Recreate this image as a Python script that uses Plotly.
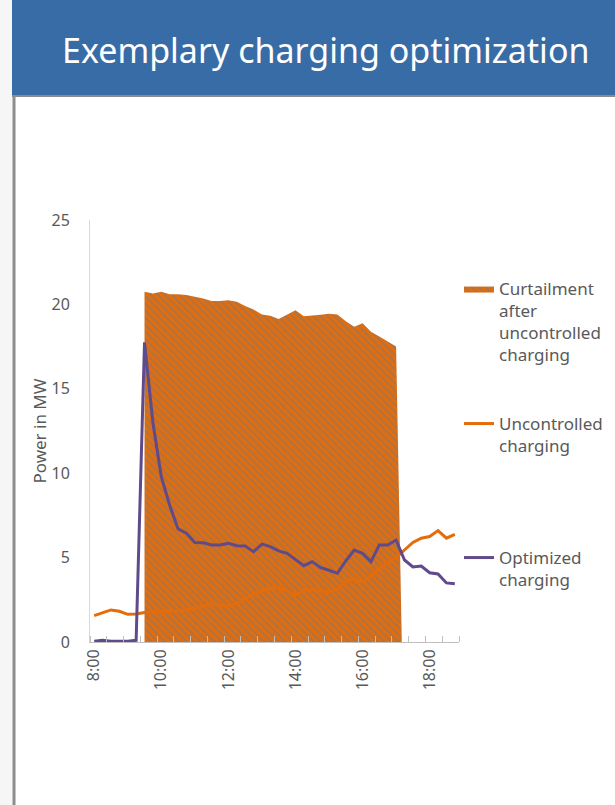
import plotly.graph_objects as go

# ---- data ----
times = [8 + 0.25 * i for i in range(44)]  # 8:00 .. 18:45, 15-min steps
uncontrolled = [1.56, 1.75, 1.90, 1.82, 1.64, 1.66, 1.75, 1.78, 1.80, 1.85, 1.85, 1.90,
                2.00, 2.15, 2.25, 2.20, 2.13, 2.30, 2.55, 2.85, 3.05, 3.15, 3.25, 3.05,
                2.80, 3.10, 3.10, 3.00, 2.98, 3.10, 3.60, 3.75, 3.55, 3.90, 4.35, 4.70,
                5.00, 5.45, 5.90, 6.15, 6.25, 6.60, 6.15, 6.38]
optimized = [0.05, 0.10, 0.05, 0.05, 0.05, 0.10, 17.75, 13.0, 9.80, 8.10, 6.70, 6.45,
             5.90, 5.88, 5.75, 5.75, 5.85, 5.70, 5.69, 5.35, 5.80, 5.65, 5.40, 5.25,
             4.90, 4.52, 4.76, 4.40, 4.25, 4.07, 4.80, 5.45, 5.25, 4.76, 5.75, 5.75,
             6.04, 4.86, 4.45, 4.50, 4.10, 4.03, 3.50, 3.45]
curt_times = [9.5, 9.5, 9.75, 10.0, 10.25, 10.5, 10.75, 11.0, 11.25, 11.5, 11.75, 12.0,
              12.25, 12.5, 12.75, 13.0, 13.25, 13.5, 13.75, 14.0, 14.25, 14.5, 14.75,
              15.0, 15.25, 15.5, 15.75, 16.0, 16.25, 16.5, 16.75, 17.0, 17.17]
curtailment = [0, 20.75, 20.65, 20.75, 20.60, 20.60, 20.55, 20.45, 20.35, 20.20, 20.20,
               20.25, 20.15, 19.90, 19.70, 19.40, 19.33, 19.13, 19.40, 19.65, 19.30,
               19.33, 19.38, 19.45, 19.40, 19.00, 18.68, 18.88, 18.38, 18.10, 17.80,
               17.50, 0]
tick_vals = [8, 10, 12, 14, 16, 18]
tick_text = ["8:00", "10:00", "12:00", "14:00", "16:00", "18:00"]
y_ticks = [0, 5, 10, 15, 20, 25]

ORANGE = "#E46C0A"
PURPLE = "#5F4B8B"
GRAY_TXT = "#595959"
FONT = "Noto Sans, sans-serif"

fig = go.Figure()
fig.add_trace(go.Scatter(
    x=curt_times, y=curtailment, mode="lines", fill="tozeroy",
    line=dict(width=0, color=ORANGE),
    fillcolor=ORANGE,
    fillpattern=dict(shape="\\", bgcolor=ORANGE, fgcolor="#7A7A7A", size=5, solidity=0.45,
                     fillmode="overlay"),
    name="Curtailment<br>after<br>uncontrolled<br>charging", legend="legend",
    hoverinfo="skip"))
fig.add_trace(go.Scatter(
    x=times, y=uncontrolled, mode="lines", line=dict(color=ORANGE, width=3),
    name="Uncontrolled<br>charging", legend="legend2"))
fig.add_trace(go.Scatter(
    x=times, y=optimized, mode="lines", line=dict(color=PURPLE, width=3),
    name="Optimized<br>charging", legend="legend3"))

W, H = 615, 805
L, R, T, B = 90, 459, 220, 642


def px(x):
    return (x - L) / (R - L)


def py(y):
    return (B - y) / (B - T)


shapes = [
    dict(type="rect", xref="paper", yref="paper", x0=px(0), x1=px(12), y0=py(805), y1=py(0),
         fillcolor="#F6F6F6", line=dict(width=0), layer="below"),
    dict(type="rect", xref="paper", yref="paper", x0=px(12), x1=px(615), y0=py(95), y1=py(0),
         fillcolor="#386CA6", line=dict(width=0), layer="below"),
    dict(type="line", xref="paper", yref="paper", x0=px(12), x1=px(615), y0=py(96), y1=py(96),
         line=dict(color="#8C8C8C", width=2), layer="below"),
    dict(type="line", xref="paper", yref="paper", x0=px(14), x1=px(14), y0=py(96), y1=py(805),
         line=dict(color="#8C8C8C", width=3), layer="below"),
]

leg_font = dict(family=FONT, size=17, color=GRAY_TXT)
legend_common = dict(font=leg_font, bgcolor="rgba(0,0,0,0)", xanchor="left", yanchor="top",
                     itemwidth=30, tracegroupgap=0, valign="top")

fig.update_layout(
    width=W, height=H,
    margin=dict(l=L, r=W - R, t=T, b=H - B, pad=0, autoexpand=False),
    paper_bgcolor="white", plot_bgcolor="white",
    shapes=shapes,
    showlegend=True,
    legend=dict(x=px(459), y=py(271), **legend_common),
    legend2=dict(x=px(459), y=py(406), **legend_common),
    legend3=dict(x=px(459), y=py(540), **legend_common),
    annotations=[dict(text="Exemplary charging optimization", xref="paper", yref="paper",
                      x=px(325), y=py(50), xanchor="center", yanchor="middle",
                      showarrow=False,
                      font=dict(family=FONT, size=34, color="white"))],
    xaxis=dict(range=[7.875, 18.875], tickvals=tick_vals, ticktext=tick_text,
               tickangle=-90, ticks="", showgrid=False, zeroline=False,
               showline=True, linecolor="#BFBFBF", linewidth=1,
               tickfont=dict(family=FONT, size=16, color=GRAY_TXT),
               minor=dict(ticks="inside", tick0=7.875, dtick=0.5, ticklen=6,
                          tickcolor="#BFBFBF", showgrid=False)),
    yaxis=dict(range=[0, 25], tickvals=y_ticks, showgrid=False, zeroline=False,
               showline=True, linecolor="#D9D9D9", linewidth=1, ticks="",
               ticklabelstandoff=16,
               tickfont=dict(family=FONT, size=16, color=GRAY_TXT),
               title=dict(text="Power in MW", standoff=0,
                          font=dict(family=FONT, size=17, color=GRAY_TXT))),
)

fig.write_html("out.html")
